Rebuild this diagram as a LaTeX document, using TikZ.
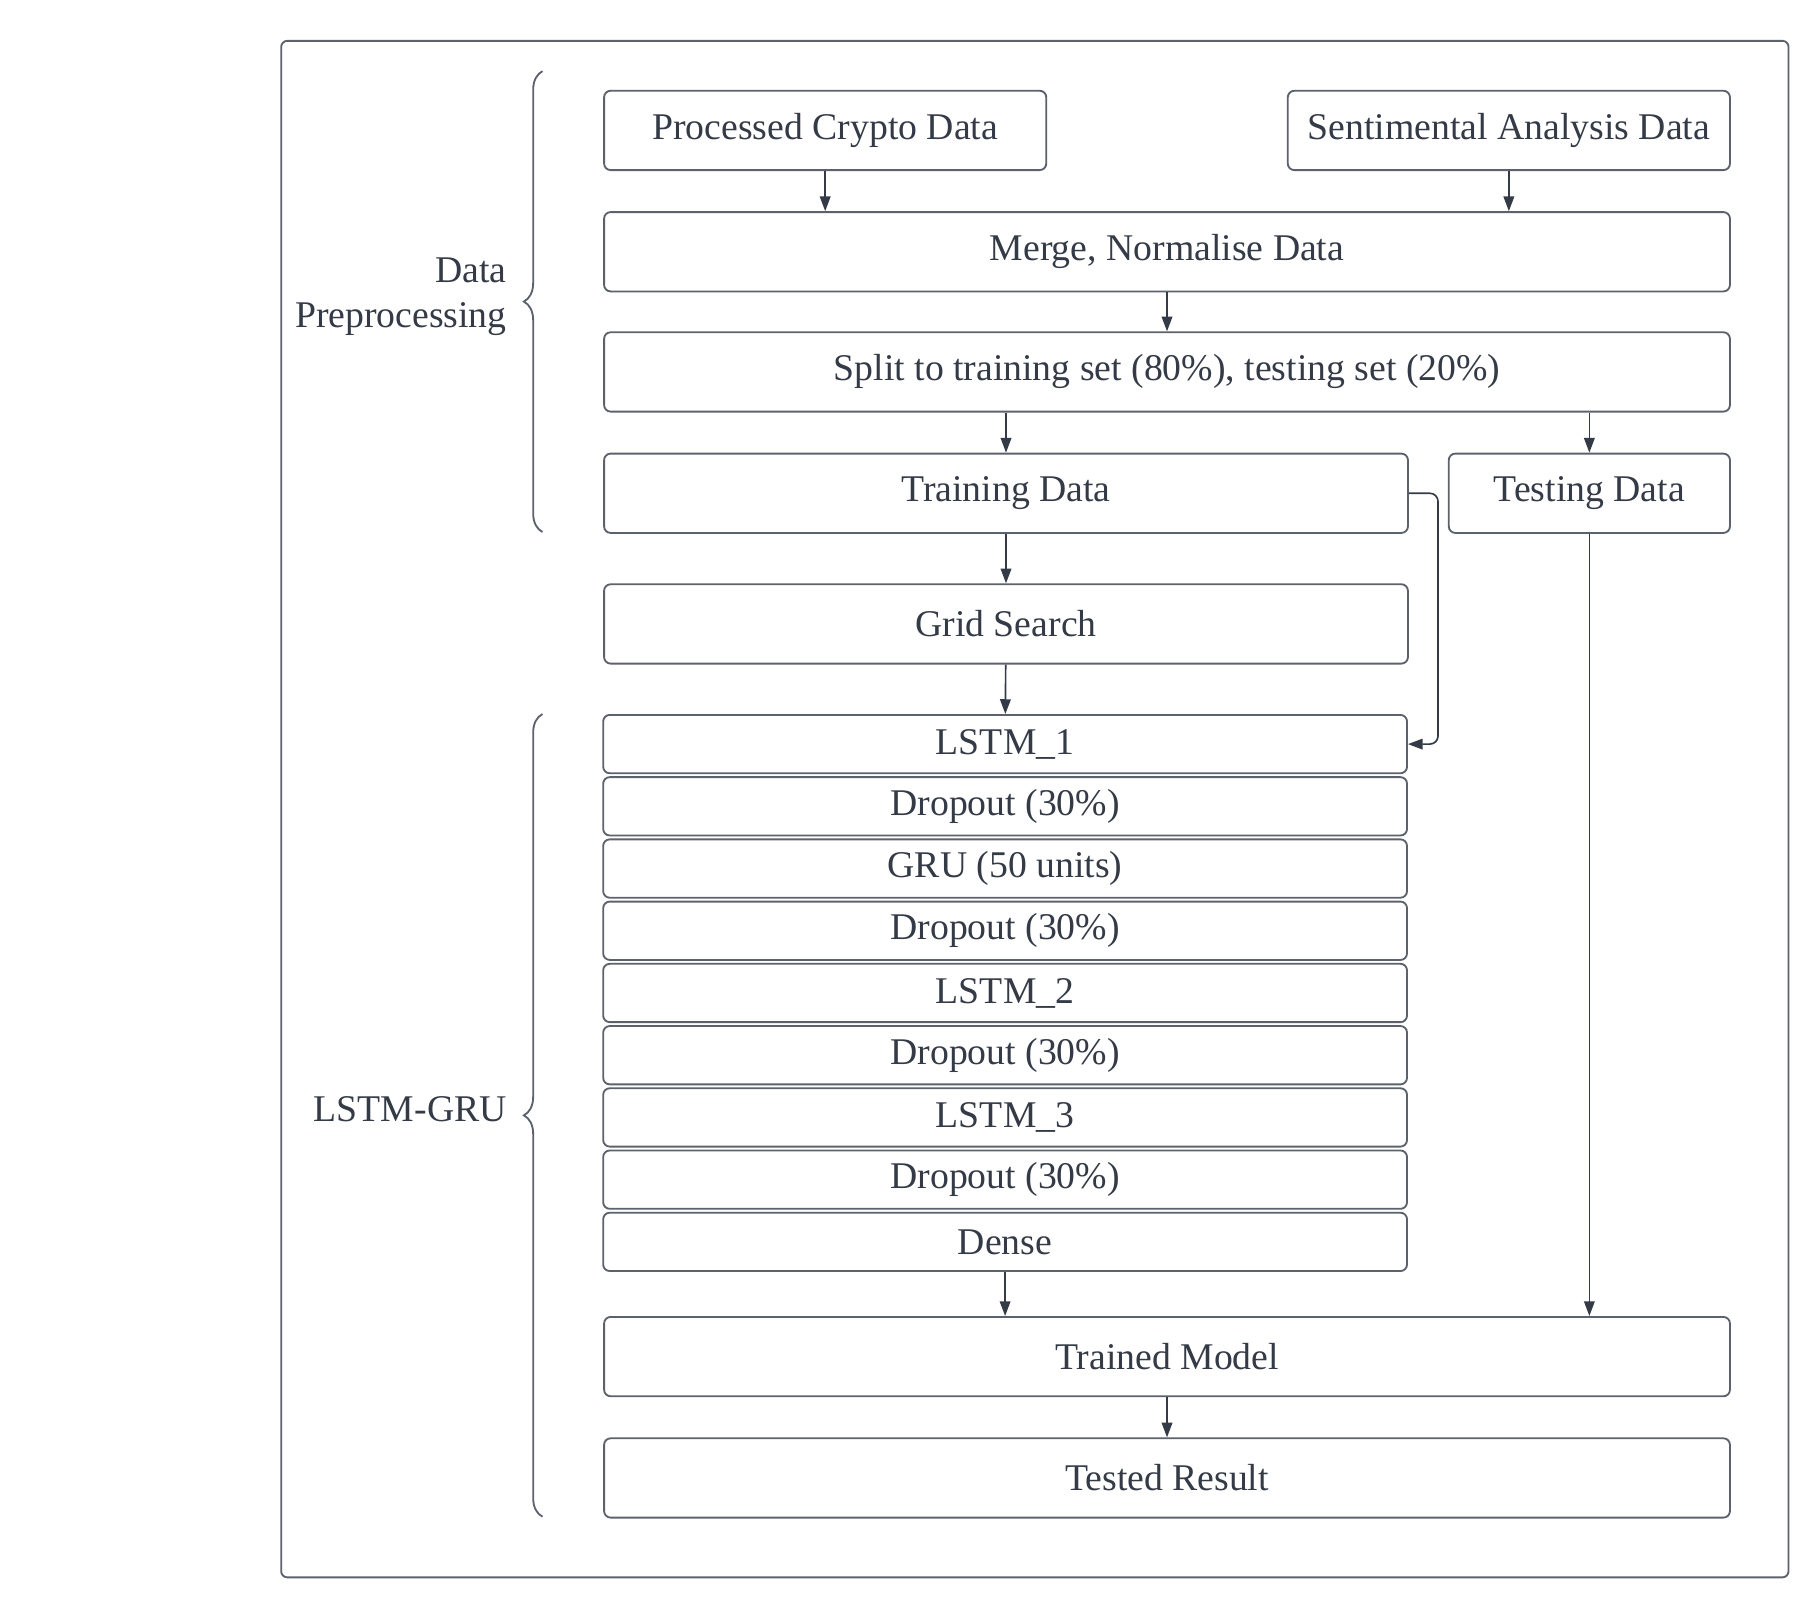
\documentclass[tikz,border=0pt]{standalone}
\usepackage{fontspec}
\setmainfont{Liberation Serif}
\usetikzlibrary{arrows.meta,positioning,decorations.pathreplacing}
\definecolor{linec}{RGB}{92,98,108}
\definecolor{txtc}{RGB}{52,59,71}
\tikzset{
  blk/.style={draw=linec, line width=0.45pt, rounded corners=1.6pt, text=txtc, inner sep=0pt, minimum height=0.68cm, anchor=north west},
  lyr/.style={blk, minimum width=6.89cm, minimum height=0.5cm, anchor=north},
  arr/.style={draw=txtc, line width=0.4pt, -{Triangle[length=3.6pt,width=2.6pt]}},
  brc/.style={draw=linec, line width=0.45pt, decorate, decoration={brace,amplitude=0.16cm}},
  lbl/.style={text=txtc, align=right, anchor=east, inner sep=0pt}
}

\begin{document}
\begin{tikzpicture}[font=\fontsize{9.2}{11}\selectfont]
  \useasboundingbox (0,0) rectangle (15.6,-13.8);
  \draw[linec, line width=0.45pt, rounded corners=1.5pt] (2.41,-0.35) rectangle (15.33,-13.52);
  % data preprocessing
  \node[blk, minimum width=3.79cm] (pcd) at (5.17,-0.77) {Processed Crypto Data};
  \node[blk, minimum width=3.79cm] (sad) at (11.03,-0.77) {Sentimental Analysis Data};
  \node[blk, minimum width=9.65cm] (mrg) at (5.17,-1.81) {Merge, Normalise Data};
  \node[blk, minimum width=9.65cm] (spl) at (5.17,-2.84) {Split to training set (80\%), testing set (20\%)};
  \node[blk, minimum width=6.89cm] (trn) at (5.17,-3.88) {Training Data};
  \node[blk, minimum width=2.41cm] (tst) at (12.41,-3.88) {Testing Data};
  \node[blk, minimum width=6.89cm] (grd) at (5.17,-5.00) {Grid Search};
  % lstm-gru layers
  \node[lyr] (l1) at (8.615,-6.12) {LSTM\_1};
  \node[lyr, below=0.0175cm of l1] (d1) {Dropout (30\%)};
  \node[lyr, below=0.0175cm of d1] (gru) {GRU (50 units)};
  \node[lyr, below=0.0175cm of gru] (d2) {Dropout (30\%)};
  \node[lyr, below=0.0175cm of d2] (l2) {LSTM\_2};
  \node[lyr, below=0.0175cm of l2] (d3) {Dropout (30\%)};
  \node[lyr, below=0.0175cm of d3] (l3) {LSTM\_3};
  \node[lyr, below=0.0175cm of l3] (d4) {Dropout (30\%)};
  \node[lyr, below=0.0175cm of d4] (dns) {Dense};
  \node[blk, minimum width=9.65cm] (tm) at (5.17,-11.28) {Trained Model};
  \node[blk, minimum width=9.65cm] (res) at (5.17,-12.32) {Tested Result};
  % braces
  \coordinate (b1s) at (4.65,-4.56); \coordinate (b1e) at (4.65,-0.61);
  \coordinate (b2s) at (4.65,-13.00); \coordinate (b2e) at (4.65,-6.12);
  \draw[brc] (b1s) -- (b1e);
  \draw[brc] (b2s) -- (b2e);
  \node[lbl] (dpl) at (4.35,-2.54) {Data\\Preprocessing};
  \node[lbl] (mdl) at (4.35,-9.51) {LSTM-GRU};
  % arrows
  \draw[arr] (pcd.south) -- (pcd.south |- mrg.north);
  \draw[arr] (sad.south) -- (sad.south |- mrg.north);
  \draw[arr] (mrg) -- (spl);
  \draw[arr] (spl.south -| trn.north) -- (trn.north);
  \draw[arr] (spl.south -| tst.north) -- (tst.north);
  \draw[arr] (trn) -- (grd);
  \draw[arr] (grd) -- (l1);
  \draw[arr, rounded corners=2pt] (trn.east) -- ++(0.25,0) |- (l1.east);
  \draw[arr] (tst.south) -- (tst.south |- tm.north);
  \draw[arr] (dns.south) -- (dns.south |- tm.north);
  \draw[arr] (tm) -- (res);
\end{tikzpicture}
\end{document}
